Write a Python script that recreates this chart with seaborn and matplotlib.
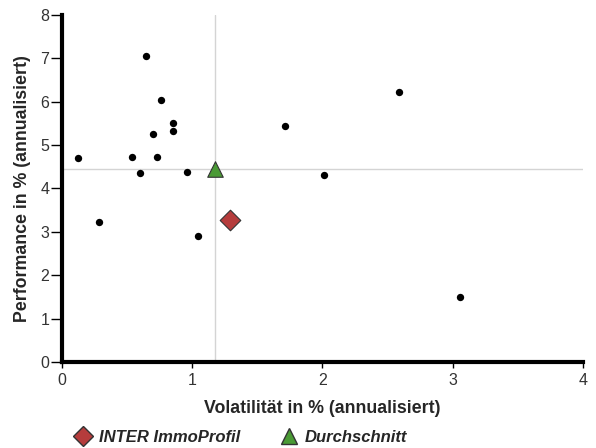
import numpy as np
import pandas as pd
import seaborn as sns
import matplotlib.pyplot as plt
from matplotlib.lines import Line2D

# peer funds: volatility / performance (% p.a.)
vola = [0.13, 0.29, 0.645, 0.765, 0.855, 0.855, 0.70, 0.54, 0.73, 0.60, 0.965, 1.046, 1.715, 2.01, 2.586, 3.056]
perf = [4.70, 3.23, 7.06, 6.04, 5.52, 5.32, 5.25, 4.73, 4.73, 4.35, 4.38, 2.91, 5.45, 4.31, 6.22, 1.49]

fund_name = "INTER ImmoProfil"
fund_vola = [1.29]
fund_perf = [3.27]

avg_name = "Durchschnitt"
avg_vola = [1.18]
avg_perf = [4.45]

sns.set_theme(style="white")
plt.rcParams['font.family'] = ['Liberation Sans', 'DejaVu Sans']

peers = pd.DataFrame({"vola": vola, "perf": perf})

fig = plt.figure(figsize=(5.96, 4.48), dpi=100)
ax = fig.add_axes([0.1032, 0.192, 0.875, 0.7745])

# crosshair at the average
ax.axvline(avg_vola[0], color='#d4d4d4', lw=1, zorder=0)
ax.axhline(avg_perf[0], color='#d4d4d4', lw=1, zorder=0)

sns.scatterplot(data=peers, x="vola", y="perf", color='black', s=28, edgecolor='black', linewidth=0, ax=ax, zorder=3)
sns.scatterplot(x=fund_vola, y=fund_perf, marker='D', color='#b53c3c', s=110, edgecolor='#333333', linewidth=0.8, ax=ax, zorder=4)
sns.scatterplot(x=avg_vola, y=avg_perf, marker='^', color='#4a9a35', s=125, edgecolor='#333333', linewidth=0.8, ax=ax, zorder=4)

ax.set_xlim(0, 4)
ax.set_ylim(0, 8)
ax.set_xticks([0, 1, 2, 3, 4])
ax.set_yticks(range(0, 9))

for s in ['top', 'right']:
    ax.spines[s].set_visible(False)
for s in ['left', 'bottom']:
    ax.spines[s].set_color('black')
    ax.spines[s].set_linewidth(3)

ax.tick_params(axis='both', direction='out', width=1, color='black',
               labelsize=11.5, labelcolor='#333333', bottom=True, left=True)
ax.tick_params(axis='x', length=4.3, pad=3.5)
ax.tick_params(axis='y', length=8, pad=0.8)

ax.set_xlabel("Volatilität in % (annualisiert)", fontsize=12.8, fontweight='bold', labelpad=9)
ax.set_ylabel("Performance in % (annualisiert)", fontsize=12.8, fontweight='bold', labelpad=7)

handles = [
    Line2D([], [], marker='D', linestyle='none', markerfacecolor='#b53c3c', markeredgecolor='#333333', markersize=10),
    Line2D([], [], marker='^', linestyle='none', markerfacecolor='#4a9a35', markeredgecolor='#333333', markersize=11),
]
leg = fig.legend(handles, [fund_name, avg_name], loc='lower left', bbox_to_anchor=(0.093, -0.027),
                 ncol=2, frameon=False, handletextpad=0.2, columnspacing=2.2, handlelength=1.5,
                 prop={'weight': 'bold', 'style': 'italic', 'size': 12})

fig.savefig("out.png", dpi=100)
